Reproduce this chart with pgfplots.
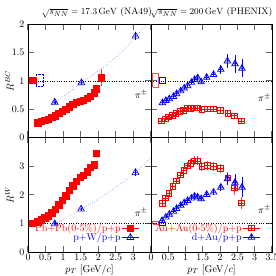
\documentclass[border=0pt]{standalone}
\usepackage{pgfplots}
\pgfplotsset{compat=1.18}
\newcommand\ff{\fontsize{10}{11.5}\selectfont}
\newcommand\ft{\fontsize{9.4}{11}\selectfont}
\pgfdeclareplotmark{sqplus}{%
 \pgfpathrectangle{\pgfpoint{-\pgfplotmarksize}{-\pgfplotmarksize}}{\pgfpoint{2\pgfplotmarksize}{2\pgfplotmarksize}}%
 \pgfpathmoveto{\pgfpoint{-\pgfplotmarksize}{0pt}}\pgfpathlineto{\pgfpoint{\pgfplotmarksize}{0pt}}%
 \pgfpathmoveto{\pgfpoint{0pt}{-\pgfplotmarksize}}\pgfpathlineto{\pgfpoint{0pt}{\pgfplotmarksize}}%
 \pgfusepathqstroke}
\pgfdeclareplotmark{triplus}{%
 \pgfpathmoveto{\pgfqpointpolar{90}{\pgfplotmarksize}}%
 \pgfpathlineto{\pgfqpointpolar{210}{\pgfplotmarksize}}%
 \pgfpathlineto{\pgfqpointpolar{330}{\pgfplotmarksize}}%
 \pgfpathclose
 \pgfpathmoveto{\pgfqpointpolar{90}{\pgfplotmarksize}}\pgfpathlineto{\pgfqpoint{0pt}{-0.5\pgfplotmarksize}}%
 \pgfpathmoveto{\pgfqpoint{-0.6\pgfplotmarksize}{0pt}}\pgfpathlineto{\pgfqpoint{0.6\pgfplotmarksize}{0pt}}%
 \pgfusepathqstroke}
\definecolor{rr}{RGB}{255,0,0}
\definecolor{bb}{RGB}{0,0,255}
\pgfplotsset{
 base/.style={scale only axis, xmin=0, xmax=3.5,
  xtick={0,0.5,1,1.5,2,2.5,3,3.5},
  tick align=inside, xtick pos=both, ytick pos=both,
  major tick length=6bp,
  tick style={line width=1.1pt, black!60},
  axis line style={line width=0.8pt},
  tick label style={font=\ff}, label style={font=\ff}, title style={font=\ft, yshift=-3pt},
  xticklabel style={yshift=1.5pt},
  ylabel style={at={(axis description cs:-0.15,0.5)}, anchor=center, rotate=0},
  legend style={draw=none, fill=none, font=\ff, anchor=east, at={(0.93,0.17)},
    nodes={inner sep=1pt}, row sep=-1.5pt},
  legend cell align=right, legend plot pos=right,
  legend image code/.code={\draw[##1, sharp plot, mark repeat=2, mark phase=2] plot coordinates {(0cm,0cm) (0.3cm,0cm) (0.6cm,0cm)};},
 },
 topp/.style={base, height=113bp, ymin=0, ymax=2, ytick={0,0.5,1,1.5,2}, xticklabels=\empty},
 bot/.style={base, height=115bp, ymin=0, ymax=4, ytick={0,1,2,3,4}},
 redf/.style={rr, mark=square*, mark size=3.2bp, only marks, line width=0.6pt},
 bluet/.style={bb, mark=triplus, mark size=4bp, only marks, line width=0.6pt},
 redo/.style={rr, mark=sqplus, mark size=2.8bp, only marks, line width=0.7pt,
   error bars/.cd, y dir=both, y explicit, error mark=none, error bar style={rr!75, line width=0.7pt}},
 blueo/.style={bb, mark=triplus, mark size=3.8bp, only marks, line width=0.7pt,
   error bars/.cd, y dir=both, y explicit, error mark=none, error bar style={bb, line width=0.7pt}},
}
\begin{document}
\begin{tikzpicture}
\useasboundingbox (-28bp,-23.7bp) rectangle (248bp,252.3bp);
% ---------------- top left
\begin{axis}[topp, at={(0bp,115bp)}, anchor=south west, width=123bp,
  ylabel={$R^{BC}$},
  title={$\sqrt{s_{NN}}=17.3\,\mathrm{GeV}$ (NA49)}, title style={at={(0.56,1)}}]
\addplot[black, dotted, forget plot] coordinates {(0,1) (3.5,1)};
\addplot[bb, densely dotted, forget plot] coordinates {(0.24,0.91) (0.43,0.91) (0.43,1.12) (0.24,1.12) (0.24,0.91)};
\addplot[bb, dotted, smooth, forget plot] coordinates {(0.76,0.62) (1.0,0.72) (1.52,0.965) (2.0,1.17) (2.29,1.31) (2.7,1.53) (3.06,1.78) (3.37,2.0)};
\addplot[redf, forget plot] coordinates {(0.14,1.01)};
\addplot[redf] coordinates {
(0.28,0.26) (0.38,0.28) (0.48,0.30) (0.58,0.32) (0.68,0.35) (0.78,0.38)
(0.88,0.42) (0.98,0.46) (1.08,0.50) (1.18,0.54) (1.28,0.58) (1.38,0.62)
(1.48,0.64) (1.58,0.66) (1.68,0.69) (1.78,0.73) (1.88,0.79) (1.94,0.86)};
\addplot[redf, error bars/.cd, y dir=both, y explicit, error mark=none, error bar style={rr!80, line width=0.8pt}] coordinates {(2.08,1.05) +- (0,0.15)};
\addplot[bluet, error bars/.cd, y dir=both, y explicit, error mark=none] coordinates {(0.76,0.62) +- (0,0.03) (1.52,0.965) +- (0,0.03) (3.06,1.79) +- (0,0.06)};
\node[font=\ff] at (axis cs:3.22,0.76) {$\pi^\pm$};
\end{axis}
% ---------------- top right
\begin{axis}[topp, at={(123bp,115bp)}, anchor=south west, width=121bp,
  yticklabels=\empty,
  title={$\sqrt{s_{NN}}=200\,\mathrm{GeV}$ (PHENIX)}, title style={at={(0.5,1)}}]
\addplot[black, dotted, forget plot] coordinates {(0,1) (3.5,1)};
\addplot[rr!70, line width=0.7pt, forget plot] coordinates {(0.05,0.89) (0.22,0.89) (0.22,1.13) (0.05,1.13) (0.05,0.89)};
\addplot[bb, line width=0.6pt, forget plot] coordinates {(0.24,0.95) (0.41,0.95) (0.41,1.06) (0.24,1.06) (0.24,0.95)};
\addplot[redo] coordinates {
(0.30,0.29) +- (0,0.01) (0.41,0.33) +- (0,0.01) (0.51,0.36) +- (0,0.01) (0.62,0.39) +- (0,0.01)
(0.72,0.42) +- (0,0.01) (0.84,0.46) +- (0,0.01) (0.94,0.48) +- (0,0.01) (1.05,0.51) +- (0,0.01)
(1.15,0.51) +- (0,0.01) (1.26,0.52) +- (0,0.01) (1.35,0.52) +- (0,0.01) (1.47,0.49) +- (0,0.01)
(1.63,0.50) +- (0,0.01) (1.81,0.50) +- (0,0.01) (2.00,0.48) +- (0,0.01) (2.22,0.42) +- (0,0.02)
(2.41,0.38) +- (0,0.02) (2.62,0.29) +- (0,0.02)};
\addplot[blueo] coordinates {
(0.33,0.61) +- (0,0.02) (0.43,0.65) +- (0,0.02) (0.53,0.68) +- (0,0.02) (0.65,0.72) +- (0,0.02)
(0.74,0.77) +- (0,0.02) (0.86,0.82) +- (0,0.02) (0.96,0.87) +- (0,0.02) (1.06,0.91) +- (0,0.02)
(1.17,0.97) +- (0,0.03) (1.26,1.02) +- (0,0.03) (1.35,1.05) +- (0,0.03) (1.45,0.98) +- (0,0.04)
(1.61,1.06) +- (0,0.04) (1.81,1.11) +- (0,0.05) (2.02,1.20) +- (0,0.08) (2.21,1.35) +- (0,0.13)
(2.43,1.30) +- (0,0.16) (2.63,1.22) +- (0,0.16)};
\node[font=\ff] at (axis cs:3.28,0.70) {$\pi^\pm$};
\end{axis}
% ---------------- bottom left
\begin{axis}[bot, at={(0bp,0bp)}, anchor=south west, width=123bp,
  ylabel={$R^{W}$},
  xticklabels={$0$,$0.5$,$1$,$1.5$,$2$,$2.5$,$3$,},
  yticklabels={$0$,$1$,$2$,$3$,},
  xlabel={$p_T$ [GeV/$c$]}, xlabel style={yshift=3pt}]
\addplot[black, dotted, forget plot] coordinates {(0,1) (3.5,1)};
\addplot[bb, dotted, smooth, forget plot] coordinates {(0.77,0.99) (1.1,1.2) (1.51,1.5) (2.0,1.85) (2.5,2.27) (3.06,2.77) (3.5,3.3)};
\addplot[redf, forget plot] coordinates {(0.12,1.0)};
\addplot[redf] coordinates {
(0.28,1.06) (0.38,1.13) (0.48,1.20) (0.58,1.27) (0.68,1.38) (0.78,1.50)
(0.88,1.65) (0.98,1.80) (1.08,1.97) (1.18,2.15) (1.28,2.32) (1.38,2.48)
(1.48,2.60) (1.58,2.67) (1.68,2.80) (1.78,2.95) (1.88,3.05) (1.94,3.45)};
\addlegendentry[text=rr]{Pb+Pb(0-5\%)/p+p}
\addplot[bluet, error bars/.cd, y dir=both, y explicit, error mark=none] coordinates {(0.76,0.99) +- (0,0.05) (1.51,1.50) +- (0,0.05) (3.06,2.77) +- (0,0.1)};
\addlegendentry[text=bb]{p+W/p+p}
\node[font=\ff] at (axis cs:3.22,1.4) {$\pi^\pm$};
\end{axis}
% ---------------- bottom right
\begin{axis}[bot, at={(123bp,0bp)}, anchor=south west, width=121bp,
  yticklabels=\empty,
  xticklabels={$0$,$0.5$,$1$,$1.5$,$2$,$2.5$,$3$,$3.5$},
  xlabel={$p_T$ [GeV/$c$]}, xlabel style={yshift=3pt}]
\addplot[black, dotted, forget plot] coordinates {(0,1) (3.5,1)};
\addplot[rr!70, line width=0.7pt, forget plot] coordinates {(0.05,0.97) (0.22,0.97) (0.22,1.08) (0.05,1.08) (0.05,0.97)};
\addplot[bb, line width=0.6pt, forget plot] coordinates {(0.24,0.95) (0.41,0.95) (0.41,1.06) (0.24,1.06) (0.24,0.95)};
\addplot[redo] coordinates {
(0.32,1.70) +- (0,0.08) (0.42,1.89) +- (0,0.08) (0.52,2.06) +- (0,0.09) (0.63,2.30) +- (0,0.10)
(0.73,2.48) +- (0,0.10) (0.85,2.69) +- (0,0.11) (0.95,2.86) +- (0,0.12) (1.05,3.01) +- (0,0.13)
(1.15,3.10) +- (0,0.14) (1.26,3.18) +- (0,0.16) (1.35,3.18) +- (0,0.16) (1.47,2.98) +- (0,0.15)
(1.63,3.03) +- (0,0.15) (1.81,2.99) +- (0,0.15) (2.00,2.92) +- (0,0.16) (2.22,2.59) +- (0,0.2)
(2.41,2.24) +- (0,0.25) (2.62,1.72) +- (0,0.2)};
\addlegendentry[text=rr]{Au+Au(0-5\%)/p+p}
\addplot[blueo] coordinates {
(0.32,1.10) +- (0,0.04) (0.43,1.22) +- (0,0.04) (0.53,1.32) +- (0,0.05) (0.65,1.42) +- (0,0.05)
(0.74,1.52) +- (0,0.05) (0.86,1.63) +- (0,0.06) (0.96,1.72) +- (0,0.06) (1.06,1.80) +- (0,0.07)
(1.17,1.88) +- (0,0.07) (1.26,1.95) +- (0,0.08) (1.35,1.92) +- (0,0.08) (1.45,1.86) +- (0,0.09)
(1.61,2.01) +- (0,0.1) (1.81,2.09) +- (0,0.1) (2.02,2.26) +- (0,0.12) (2.21,2.55) +- (0,0.2)
(2.43,2.43) +- (0,0.3) (2.63,2.26) +- (0,0.35)};
\addlegendentry[text=bb]{d+Au/p+p}
\node[font=\ff] at (axis cs:3.28,1.5) {$\pi^\pm$};
\end{axis}
\end{tikzpicture}
\end{document}
